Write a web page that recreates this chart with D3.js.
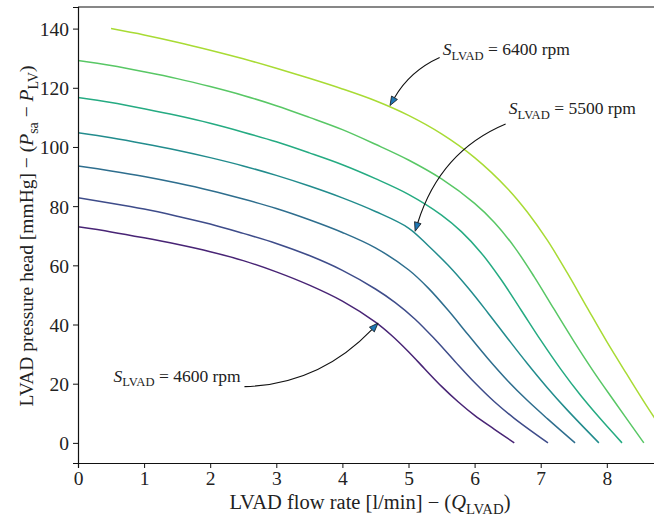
<!DOCTYPE html>
<html><head><meta charset="utf-8">
<script src="https://cdn.jsdelivr.net/npm/d3@7"></script>
<style>
body{margin:0;background:#fff}
svg{display:block}
text{font-family:"Liberation Serif","DejaVu Serif",serif;white-space:pre}
</style>
</head><body>
<svg id="chart" width="654" height="518"></svg>
<script>
// ---------- data ----------
const speeds = [4600, 4900, 5200, 5500, 5800, 6100, 6400];

const flow4600 = [0,0.5,1,1.5,2,2.5,3,3.5,4,4.5,4.75,5,5.25,5.5,5.75,6,6.3,6.6];
const head4600 = [73,71.3,69.3,67.1,64.6,61.6,57.8,53.3,47.9,40.8,36.2,30.8,24.9,19.1,13.9,9.3,4.6,0];

const flow4900 = [0,0.5,1,1.5,2,2.5,3,3.5,4,4.5,4.8,5.1,5.4,5.7,6,6.3,6.6,7.11];
const head4900 = [82.8,81,79,76.6,74,70.8,67.4,63.3,58.3,52,47.4,41.8,35,27.6,20.4,13.9,8.3,0];

const flow5200 = [0,0.5,1,1.5,2,2.5,3,3.5,4,4.5,5,5.3,5.6,5.9,6.2,6.5,6.8,7.1,7.52];
const head5200 = [93.6,91.9,90,87.8,85.3,82.4,79.2,75.4,71.1,65.9,58.5,52.3,44.8,36.6,28.5,21,14.3,8.2,0];

const flow5500 = [0,0.5,1,1.5,2,2.5,3,3.5,4,4.5,5,5.3,5.6,5.9,6.2,6.5,6.8,7.1,7.4,7.88];
const head5500 = [104.8,103.1,101.1,98.9,96.4,93.6,90.4,86.8,82.8,78.2,72.6,66.6,60,52.4,44,35.3,26.75,18.65,11.15,0];

const flow5800 = [0,0.5,1,1.5,2,2.5,3,3.5,4,4.5,5,5.5,5.8,6.1,6.4,6.7,7,7.3,7.6,7.9,8.23];
const head5800 = [116.7,115,112.9,110.6,108,105,101.75,98,94,89.3,84,77,71.4,64.2,55.2,45,34.7,25,16.15,8.2,0];

const flow6100 = [0,0.5,1,1.5,2,2.5,3,3.5,4,4.5,5,5.5,6,6.3,6.6,6.9,7.2,7.5,7.8,8.1,8.56];
const head6100 = [129.2,127.5,125.4,123.1,120.4,117.4,113.95,110,105.85,100.9,95.6,89.2,80.95,74.5,66.25,56.2,45.25,34.4,24.1,14.5,0];

const flow6400 = [0.5,1,1.5,2,2.5,3,3.5,4,4.5,5,5.5,6,6.5,6.8,7.1,7.4,7.7,8,8.3,8.6,8.9];
const head6400 = [140,137.85,135.4,132.7,129.8,126.6,123.2,119.6,115.6,110.65,104.4,96.4,85.9,77.95,68.5,57.5,45.8,34.2,23.3,12.6,2.5];

const flows = [flow4600, flow4900, flow5200, flow5500, flow5800, flow6100, flow6400];
const heads = [head4600, head4900, head5200, head5500, head5800, head6100, head6400];

const xTicks = [0,1,2,3,4,5,6,7,8];
const yTicks = [0,20,40,60,80,100,120,140];

// annotations: label speed, arrow tip (flow, head), text centre (flow, head), curvature
const annoSpeeds = [6400, 5500, 4600];
const annoTip = [[4.72,114.0],[5.10,71.5],[4.54,40.5]];
const annoText = [[6.48,132.4],[7.48,112.5],[1.50,22]];
const annoRad = [-0.35,-0.35,-0.3];

// ---------- layout ----------
const colorT = [0.1,0.228,0.356,0.484,0.612,0.74,0.868];
const svg = d3.select('#chart');
const xMax = 8.8;
const x = d3.scaleLinear().domain([0, xMax]).range([78, 78 + xMax*66.1]);
const y = d3.scaleLinear().domain([-6.8, 147.3]).range([463, 7]);
const FS = 19.5;

svg.append('defs').append('clipPath').attr('id','plotclip')
  .append('rect').attr('x',x(0)).attr('y',y(147.3)).attr('width',x(xMax)-x(0)).attr('height',y(-6.8)-y(147.3));

// curves
const line = d3.line().x(d=>x(d[0])).y(d=>y(d[1])).curve(d3.curveCatmullRom.alpha(0.5));
const gLines = svg.append('g').attr('clip-path','url(#plotclip)');
speeds.forEach((s,i)=>{
  const pts = flows[i].map((q,j)=>[q, heads[i][j]]);
  gLines.append('path').attr('d', line(pts)).attr('fill','none')
    .attr('stroke', d3.interpolateViridis(colorT[i])).attr('stroke-width',1.5);
});

// axes
const xAxis = svg.append('g').attr('transform',`translate(0,${y(-6.8)})`)
  .call(d3.axisBottom(x).tickValues(xTicks).tickSize(5).tickPadding(3).tickFormat(d3.format('d')));
const yAxis = svg.append('g').attr('transform',`translate(${x(0)},0)`)
  .call(d3.axisLeft(y).tickValues(yTicks).tickSize(5).tickPadding(4).tickFormat(d3.format('d')));
[xAxis,yAxis].forEach(a=>{
  a.selectAll('text').attr('font-size',FS).attr('font-family','"Liberation Serif",serif').attr('fill','#222');
  a.selectAll('line').attr('stroke','#111').attr('stroke-width',1);
  a.select('.domain').attr('stroke','#111').attr('stroke-width',1.2);
});
yAxis.selectAll('text').attr('dy','0.36em');
// top spine
svg.append('line').attr('x1',x(0)).attr('x2',x(xMax)).attr('y1',y(147.3)).attr('y2',y(147.3))
  .attr('stroke','#111').attr('stroke-width',1.2);

// rich text helper
function rich(sel, parts, size){
  const sub = size*0.72, shift = size*0.24;
  let down=false;
  parts.forEach(p=>{
    const ts = sel.append('tspan').text(p.t);
    if(p.i) ts.attr('font-style','italic');
    if(p.s){ ts.attr('font-size',sub); if(!down){ts.attr('dy',shift);down=true;} }
    else if(down){ ts.attr('dy',-shift); down=false; }
  });
}

// axis labels
const XFS = 20.5;
const xl = svg.append('text').attr('x',370).attr('y',509).attr('text-anchor','middle')
  .attr('font-size',XFS).attr('fill','#222');
rich(xl,[{t:'LVAD flow rate [l/min] \u2212 ('},{t:'Q',i:1},{t:'LVAD',s:1},{t:')'}],XFS);

const YFS = 19.5;
const yl = svg.append('text').attr('transform','translate(33,236) rotate(-90)').attr('text-anchor','middle')
  .attr('font-size',YFS).attr('fill','#222');
rich(yl,[{t:'LVAD pressure head [mmHg] \u2212 ('},{t:'P',i:1},{t:'sa',s:1},{t:' \u2212 '},{t:'P',i:1},{t:'LV',s:1},{t:')'}],YFS);

// annotations
function qpt(S,C,E,t){const u=1-t;return [u*u*S[0]+2*u*t*C[0]+t*t*E[0], u*u*S[1]+2*u*t*C[1]+t*t*E[1]];}
annoSpeeds.forEach((sp,k)=>{
  const AFS = 17.5;
  const tx = svg.append('text').attr('x',x(annoText[k][0])).attr('y',y(annoText[k][1]))
    .attr('text-anchor','middle').attr('font-size',AFS).attr('fill','#222');
  rich(tx,[{t:'S',i:1},{t:'LVAD',s:1},{t:' = '+sp+' rpm'}],AFS);
  const bb = tx.node().getBBox();
  tx.attr('y', +tx.attr('y') + (y(annoText[k][1]) - (bb.y+bb.height/2)));
  const b = tx.node().getBBox();
  const S = [b.x+b.width/2, b.y+b.height/2];
  const E = [x(annoTip[k][0]), y(annoTip[k][1])];
  const dx=E[0]-S[0], dy=E[1]-S[1], r=annoRad[k];
  const C = [(S[0]+E[0])/2 + r*dy, (S[1]+E[1])/2 - r*dx];
  const pad=3;
  let t0=0;
  for(let t=0;t<=1;t+=0.002){const p=qpt(S,C,E,t);
    if(p[0]<b.x-pad||p[0]>b.x+b.width+pad||p[1]<b.y-pad||p[1]>b.y+b.height+pad){t0=t;break;}}
  const P0 = qpt(S,C,E,t0);
  const C1 = [(1-t0)*C[0]+t0*E[0], (1-t0)*C[1]+t0*E[1]];
  const ang = Math.atan2(E[1]-C1[1], E[0]-C1[0]);
  const hl=9, hw=3.4;
  const base=[E[0]-hl*Math.cos(ang), E[1]-hl*Math.sin(ang)];
  svg.append('path').attr('d',`M${P0[0]},${P0[1]}Q${C1[0]},${C1[1]} ${base[0]},${base[1]}`)
    .attr('fill','none').attr('stroke','#111').attr('stroke-width',1.1);
  const nx=-Math.sin(ang), ny=Math.cos(ang);
  svg.append('path').attr('d',`M${E[0]},${E[1]}L${base[0]+hw*nx},${base[1]+hw*ny}L${base[0]-hw*nx},${base[1]-hw*ny}Z`)
    .attr('fill','#1f77b4').attr('stroke','#111').attr('stroke-width',0.8);
});
</script>
</body></html>
